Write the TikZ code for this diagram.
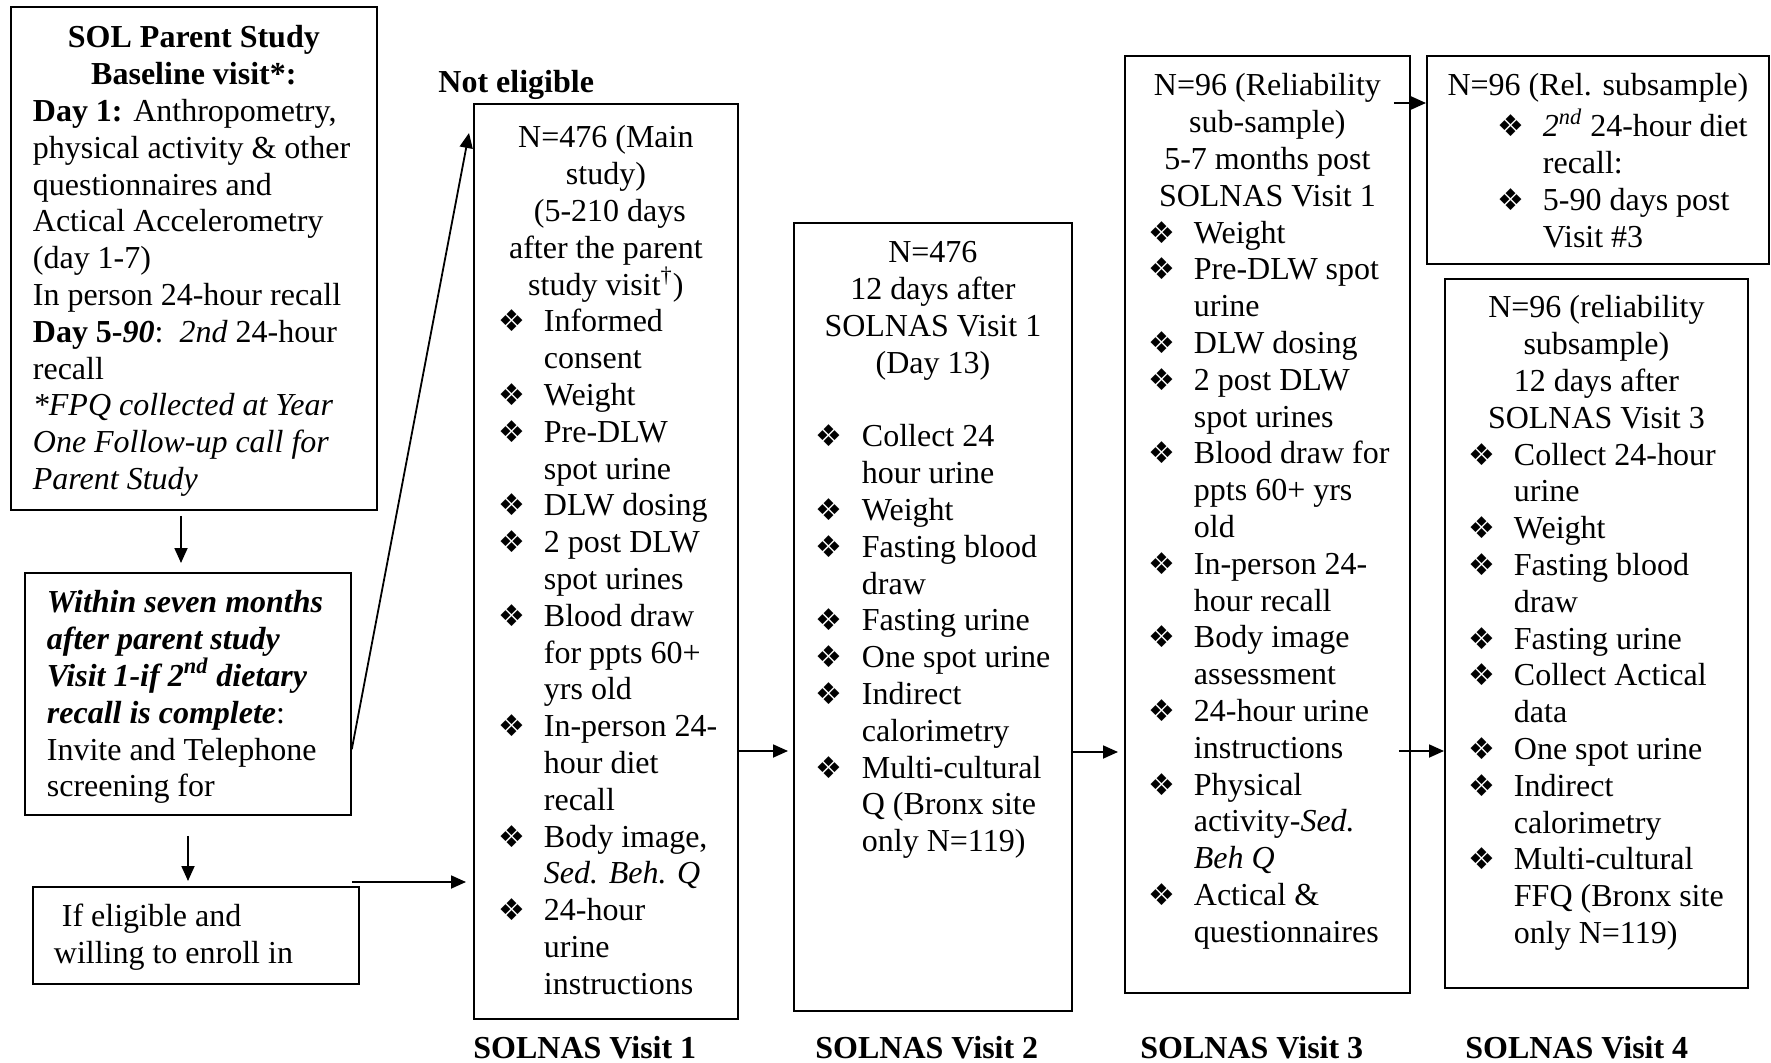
\documentclass[tikz,border=0pt]{standalone}
\usepackage{fontspec}
\setmainfont{Liberation Serif}
\newfontfamily\bulfont{DejaVu Sans}
\usetikzlibrary{arrows.meta,calc}
\newlength\px \setlength\px{0.5pt}
\newlength\bulx \newlength\txtx
\newcommand\bul{{\bulfont\fontsize{15}{15}\selectfont\char"2756}}
\newcommand\bitem[1]{\par\hangindent=\txtx\hangafter=1\noindent\hbox to\txtx{\hskip\bulx\bul\hfil}#1\par}
\newcommand\nl{\hfil\break}
\newcommand\boxtext[4]{\begin{minipage}[t][#2][t]{#1}\vspace*{#3}#4\end{minipage}}
\begin{document}
\begin{tikzpicture}[x=0.5pt,y=-0.5pt,
  every node/.style={inner sep=0pt, font=\fontsize{16}{18.4}\selectfont},
  box/.style={draw, line width=0.9pt, anchor=north west},
  lbl/.style={anchor=base west, font=\fontsize{16}{18.4}\selectfont\bfseries},
  arr/.style={-{Triangle[length=7.5pt,width=6.5pt]}, line width=0.9pt}]
\useasboundingbox (0,0) rectangle (1771,1063);

% Box A
\node[box] (A) at (10,6) {\boxtext{183pt}{251.5pt}{7.6pt}{%
{\centering\bfseries\strut SOL Parent Study\\ Baseline visit*:\par}
{\leftskip=22\px \noindent\textbf{Day 1:} Anthropometry,\nl physical activity \& other\nl questionnaires and\nl Actical Accelerometry\nl (day 1-7)\nl In person 24-hour recall\nl \textbf{Day 5-\textit{90}}:\ \ \textit{2nd} 24-hour\nl recall\nl \textit{*FPQ collected at Year\nl One Follow-up call for\nl Parent Study}\par}}};

% Box B
\node[box] (B) at (24,572) {\boxtext{163pt}{121pt}{7.1pt}{%
{\leftskip=22\px \noindent\strut\textbf{\textit{Within seven months\nl after parent study\nl Visit 1-if 2\textsuperscript{nd} dietary\nl recall is complete}}:\nl Invite and Telephone\nl screening for\par}}};

% Box C
\node[box] (C) at (32,886) {\boxtext{163pt}{48.5pt}{6.9pt}{%
{\leftskip=21\px \noindent\strut\ If eligible and\nl willing to enroll in\par}}};

% Box D
\node[box] (D) at (473,103) {\boxtext{132pt}{457.5pt}{9.1pt}{%
\setlength\bulx{25\px}\setlength\txtx{70\px}%
{\centering\strut N=476 (Main\\ study)\\ \ (5-210 days\\ after the parent\\ study visit\textsuperscript{†})\par}
\bitem{Informed\nl consent}
\bitem{Weight}
\bitem{Pre-DLW\nl spot urine}
\bitem{DLW dosing}
\bitem{2 post DLW\nl spot urines}
\bitem{Blood draw\nl for ppts 60+\nl yrs old}
\bitem{In-person 24-\nl hour diet\nl recall}
\bitem{Body image,\nl \textit{Sed. Beh. Q}}
\bitem{24-hour\nl urine\nl instructions}}};

% Box E
\node[box] (E) at (793,222) {\boxtext{139pt}{394pt}{7.1pt}{%
\setlength\bulx{22\px}\setlength\txtx{68\px}%
{\centering\strut N=476\\ 12 days after\\ SOLNAS Visit 1\\ (Day 13)\par}
\vspace{18.4pt}
\bitem{Collect 24\nl hour urine}
\bitem{Weight}
\bitem{Fasting blood\nl draw}
\bitem{Fasting urine}
\bitem{One spot urine}
\bitem{Indirect\nl calorimetry}
\bitem{Multi-cultural\nl Q (Bronx site\nl only N=119)}}};

% Box F
\node[box] (F) at (1124,55) {\boxtext{142.5pt}{468.5pt}{7.1pt}{%
\setlength\bulx{24\px}\setlength\txtx{69\px}%
{\centering\strut N=96 (Reliability\\ sub-sample)\\ 5-7 months post\\ SOLNAS Visit 1\par}
\bitem{Weight}
\bitem{Pre-DLW spot\nl urine}
\bitem{DLW dosing}
\bitem{2 post DLW\nl spot urines}
\bitem{Blood draw for\nl ppts 60+ yrs\nl old}
\bitem{In-person 24-\nl hour recall}
\bitem{Body image\nl assessment}
\bitem{24-hour urine\nl instructions}
\bitem{Physical\nl activity-\textit{Sed.}\nl \textit{Beh Q}}
\bitem{Actical \&\nl questionnaires}}};

% Box G
\node[box] (G) at (1426,55) {\boxtext{171pt}{104pt}{7.1pt}{%
\setlength\bulx{71\px}\setlength\txtx{116\px}%
{\centering\strut N=96 (Rel. subsample)\par}
\bitem{\textit{2\textsuperscript{nd}} 24-hour diet\nl recall:}
\bitem{5-90 days post\nl Visit \#3}}};

% Box H
\node[box] (H) at (1444,278) {\boxtext{151.5pt}{354.5pt}{6.6pt}{%
\setlength\bulx{24\px}\setlength\txtx{69\px}%
{\centering\strut N=96 (reliability\\ subsample)\\ 12 days after\\ SOLNAS Visit 3\par}
\bitem{Collect 24-hour\nl urine}
\bitem{Weight}
\bitem{Fasting blood\nl draw}
\bitem{Fasting urine}
\bitem{Collect Actical\nl data}
\bitem{One spot urine}
\bitem{Indirect\nl calorimetry}
\bitem{Multi-cultural\nl FFQ (Bronx site\nl only N=119)}}};

% Labels
\node[lbl] (nel) at (438,93) {Not eligible};
\node[lbl] (v1) at (473,1058) {SOLNAS Visit 1};
\node[lbl] (v2) at (815,1058) {SOLNAS Visit 2};
\node[lbl] (v3) at (1140,1058) {SOLNAS Visit 3};
\node[lbl] (v4) at (1465,1058) {SOLNAS Visit 4};

% Connectors
\coordinate (xa) at (181,0);
\coordinate (xb) at (188,0);
\draw[arr, shorten <=2.5pt, shorten >=4.5pt] (A.south -| xa) -- (B.north -| xa);
\draw[arr, shorten <=10pt, shorten >=2.5pt] (B.south -| xb) -- (C.north -| xb);
\coordinate (ne) at (469,133);
\draw[arr] ($(B.north east)!0.727!(B.south east)$) -- (ne);
\coordinate (cd) at ($(C.north east)+(-8,-4)$);
\draw[arr, shorten >=3.5pt] (cd) -- (cd -| D.west);
\coordinate (r1) at (0,751);
\coordinate (r2) at (0,752);
\coordinate (r3) at (0,103);
\draw[arr, shorten >=2.5pt] (D.east |- r1) -- (E.west |- r1);
\draw[arr, shorten <=-1pt, shorten >=3pt] (E.east |- r2) -- (F.west |- r2);
\draw[arr, shorten <=-8.5pt] (F.east |- r3) -- (G.west |- r3);
\draw[arr, shorten <=-6pt] (F.east |- r1) -- (H.west |- r1);
\end{tikzpicture}
\end{document}
